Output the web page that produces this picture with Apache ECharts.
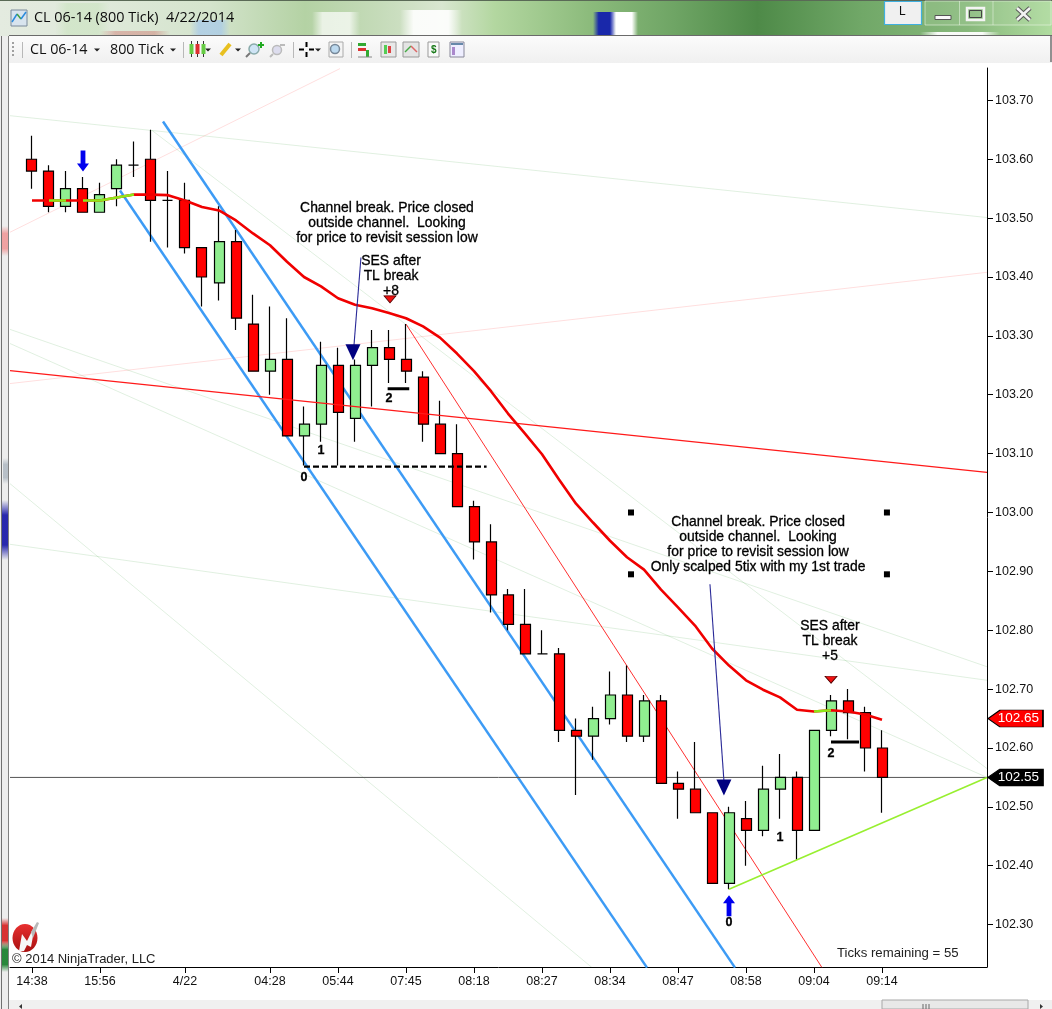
<!DOCTYPE html>
<html><head><meta charset="utf-8"><title>CL 06-14 (800 Tick) 4/22/2014</title>
<style>html,body{margin:0;padding:0;background:#fff}#c{width:1052px;height:1009px}</style>
<script src="https://cdn.jsdelivr.net/npm/echarts@6/dist/echarts.min.js"></script></head><body><div id="c"></div>
<script>
// ---- chart values ----
const priceTicks = [102.3,102.4,102.5,102.6,102.7,102.8,102.9,103.0,103.1,103.2,103.3,103.4,103.5,103.6,103.7];
const timeTickBars = [0,4,9,14,18,22,26,30,34,38,42,46,50];
const timeTickLabels = ['14:38','15:56','4/22','04:28','05:44','07:45','08:18','08:27','08:34','08:47','08:58','09:04','09:14'];
const opens = [103.60,103.58,103.52,103.55,103.51,103.55,103.59,103.60,103.53,103.53,103.45,103.39,103.46,103.32,103.24,103.26,103.13,103.15,103.25,103.16,103.25,103.28,103.26,103.23,103.15,103.10,103.01,102.95,102.86,102.81,102.76,102.76,102.63,102.62,102.65,102.69,102.62,102.68,102.54,102.53,102.49,102.37,102.48,102.46,102.53,102.55,102.46,102.63,102.68,102.66,102.60];
const closes = [103.58,103.52,103.55,103.51,103.54,103.59,103.59,103.53,103.53,103.45,103.40,103.46,103.33,103.24,103.26,103.13,103.15,103.25,103.17,103.25,103.28,103.26,103.24,103.15,103.10,103.01,102.95,102.86,102.81,102.76,102.76,102.63,102.62,102.65,102.69,102.62,102.68,102.54,102.53,102.49,102.37,102.49,102.46,102.53,102.55,102.46,102.63,102.68,102.66,102.60,102.55];
const lows = [103.55,103.51,103.51,103.51,103.51,103.52,103.57,103.46,103.45,103.44,103.35,103.36,103.31,103.24,103.20,103.13,103.08,103.12,103.08,103.12,103.18,103.22,103.22,103.12,103.10,103.01,102.92,102.83,102.80,102.76,102.76,102.61,102.52,102.58,102.64,102.61,102.61,102.54,102.48,102.49,102.37,102.36,102.40,102.45,102.48,102.41,102.46,102.62,102.615,102.56,102.49];
const highs = [103.64,103.59,103.58,103.57,103.56,103.60,103.63,103.65,103.58,103.56,103.45,103.52,103.48,103.37,103.35,103.33,103.18,103.29,103.28,103.26,103.31,103.31,103.32,103.24,103.19,103.15,103.02,102.98,102.87,102.87,102.80,102.77,102.65,102.67,102.73,102.74,102.69,102.69,102.56,102.61,102.49,102.50,102.51,102.57,102.59,102.56,102.63,102.69,102.70,102.67,102.63];
const maValues = [103.530,103.530,103.530,103.530,103.530,103.535,103.540,103.540,103.539,103.530,103.519,103.513,103.496,103.474,103.454,103.426,103.400,103.384,103.364,103.353,103.347,103.339,103.330,103.316,103.297,103.270,103.240,103.206,103.168,103.134,103.099,103.056,103.015,102.983,102.952,102.924,102.903,102.869,102.839,102.808,102.769,102.740,102.715,102.699,102.686,102.665,102.662,102.664,102.662,102.657,102.648];
const maUpSpans = [[1,2],[3,6],[46,47]];
const channelLines = [[7.706,103.664,41.353,102.227],[5.176,103.547,36.176,102.227]];
const redThinLine = [22,103.32,46.47,102.227];
const redLongLine = [-1.294,103.241,56.176,103.068];
const limeLine = [41,102.36,56.176,102.55];
const faintRedLines = [[-1.294,103.476,18.118,103.754],[-1.294,103.219,56.176,103.408]];
const faintGreenLines = [[-1.294,103.674,56.176,103.501],[7.059,103.649,56.176,102.565],[-1.294,103.311,56.176,102.738],[-1.294,103.287,56.176,102.550],[-1.294,103.049,32.941,102.227],[-1.294,102.946,56.176,102.715]];
const lastPrice = 102.55, maLast = 102.65;
const navyLines = [[19.35,103.433,18.94,103.284],[39.88,102.878,40.7,102.545]];
const navyArrows = [[18.88,103.272],[40.7,102.533]];
const downArrow = [3,103.597], upArrow = [41,102.332];
const stopMarks = [[21.06,103.362],[47,102.716]];
const squares = [[35.235,103.0],[50.29,103.0],[35.235,102.895],[50.29,102.895]];
const solidLevels = [[20.92,22.19,103.21],[47,48.65,102.61]];
const dashedLevel = [16,26.74,103.078];
const notes = [
 [20.88,103.491,'Channel break. Price closed\noutside channel.  Looking\nfor price to revisit session low'],
 [21.12,103.401,'SES after\nTL break\n+8'],
 [42.71,102.946,'Channel break. Price closed\noutside channel.  Looking\nfor price to revisit session low\nOnly scalped 5tix with my 1st trade'],
 [46.94,102.781,'SES after\nTL break\n+5']];
const legNumbers = [[16,103.060,'0'],[17,103.105,'1'],[21,103.194,'2'],[41,102.303,'0'],[44,102.448,'1'],[47,102.591,'2']];
const tagBar = 57.85;

// ---- styling / build ----
const FONT='"Liberation Sans",Arial,sans-serif', UI='"Open Sans","Noto Sans",sans-serif';
const xMin=-1.294,xMax=56.176,yMin=102.228,yMax=103.755;
function seg(name,l,color,width,z,extra){return Object.assign({type:'line',name,data:[[l[0],l[1]],[l[2],l[3]]],showSymbol:false,symbol:'none',silent:true,clip:true,z:z,animation:false,lineStyle:{color,width}},extra||{});}
function sc(data,symbol,size,color,rotate,border){return {type:'scatter',data,symbol,symbolSize:size,symbolRotate:rotate||0,silent:true,clip:false,z:6,itemStyle:{color,opacity:1,borderColor:border||color,borderWidth:border?0.8:0}};}
function textSeries(rows,size,weight){return {type:'scatter',data:rows.map(n=>({name:n[2],value:[n[0],n[1]]})),symbolSize:1,silent:true,clip:false,z:7,itemStyle:{color:'rgba(0,0,0,0)',opacity:1},
  label:{show:true,position:'inside',formatter:'{b}',color:'#000',fontFamily:FONT,fontSize:size,fontWeight:weight,lineHeight:15,align:'center',verticalAlign:'middle',textBorderWidth:0.3,textBorderColor:'#000'}};}
const series=[];
faintRedLines.forEach(l=>series.push(seg('faintR',l,'rgba(255,0,0,0.13)',1,1)));
faintGreenLines.forEach(l=>series.push(seg('faintG',l,'rgba(0,128,0,0.12)',1,1)));
channelLines.forEach(l=>series.push(seg('channel',l,'#3d9bf5',2.5,1)));
series.push(seg('thin',redThinLine,'#ff3030',1,1));
series.push(seg('long',redLongLine,'#ff1a1a',1.3,3));
series.push(seg('lime',limeLine,'#98ef30',1.6,3));
series.push({type:'line',name:'last',data:[[xMin,lastPrice],[xMax,lastPrice]],symbol:'none',silent:true,z:1,lineStyle:{color:'#555',width:1}});
series.push({type:'candlestick',name:'CL',barWidth:10.5,z:2,silent:true,
  data:opens.map((o,i)=>[i,o,closes[i],lows[i],highs[i]]),
  itemStyle:{color:'#90ee90',color0:'#ff0000',borderColor:'#000',borderColor0:'#000',borderColorDoji:'#000',borderWidth:1.2}});
series.push({type:'line',name:'MA',data:maValues.map((v,i)=>[i,v]),symbol:'none',silent:true,z:4,lineStyle:{color:'#f00000',width:2.6}});
maUpSpans.forEach(s=>{const d=[];for(let i=s[0];i<=s[1];i++)d.push([i,maValues[i]]);
  series.push({type:'line',name:'MAup',data:d,symbol:'none',silent:true,z:5,lineStyle:{color:'#8ee818',width:2.6}});});
navyLines.forEach(l=>series.push(seg('navy',l,'#2a2a98',1.1,5)));
series.push(sc(navyArrows,'triangle',[15,16],'#000080',180));
const ARROW='path://M30 0 L70 0 L70 62 L100 62 L50 100 L0 62 L30 62 Z';
series.push(sc([downArrow],ARROW,[12,21],'#0000ee',0));
series.push(sc([upArrow],ARROW,[12,21],'#0000ee',180));
series.push(sc(stopMarks,'triangle',[12,7],'#f01010',180,'#500000'));
series.push(sc(squares,'rect',6,'#000'));
solidLevels.forEach(l=>series.push(seg('lvl',[l[0],l[2],l[1],l[2]],'#000',3,5)));
series.push(seg('dash',[dashedLevel[0],dashedLevel[2],dashedLevel[1],dashedLevel[2]],'#000',2.2,5,{lineStyle:{color:'#000',width:2.2,type:[6,3]}}));
series.push(textSeries(notes,13.9,'normal'));
series.push(textSeries(legNumbers,12.5,'bold'));
const TAG='path://M0 50 L22 0 L100 0 L100 100 L22 100 Z';
[[maLast,'#ff0000'],[lastPrice,'#000000']].forEach(t=>series.push({type:'scatter',data:[{name:t[0].toFixed(2),value:[tagBar,t[0]]}],symbol:TAG,symbolSize:[55,17],silent:true,clip:false,z:8,
  itemStyle:{color:t[1],borderColor:'#000',borderWidth:1,opacity:1},label:{show:true,position:'inside',formatter:'{b}',color:'#fff',fontFamily:FONT,fontSize:13.5,offset:[3,0]}}));

const g=[];
const R=(x,y,w,h,fill,extra)=>g.push(Object.assign({type:'rect',silent:true,z:-10,shape:{x,y,width:w,height:h},style:Object.assign({fill},extra&&extra.style||{})},extra&&extra.el||{}));
const T=(x,y,s,size,fam,fill,z)=>g.push({type:'text',silent:true,z:z||-3,x,y,style:{text:s,fontSize:size,fontFamily:fam,fill,verticalAlign:'middle'}});
const L=(x1,y1,x2,y2,c,w)=>g.push({type:'line',silent:true,z:-4,shape:{x1,y1,x2,y2},style:{stroke:c,lineWidth:w||1}});
const P=(pts,fill,z)=>g.push({type:'polygon',silent:true,z:z||-4,shape:{points:pts},style:{fill}});
// title bar
R(0,0,1052,36,{type:'linear',x:0,y:0,x2:1,y2:0,colorStops:[{offset:0,color:'#e4ebe0'},{offset:.1,color:'#dfe9da'},{offset:.2,color:'#d4e4cc'},{offset:.29,color:'#b4d2a4'},{offset:.36,color:'#c5dbb9'},{offset:.42,color:'#d8e6d0'},{offset:.47,color:'#b3d7a0'},{offset:.56,color:'#8cbb7c'},{offset:.64,color:'#6fa565'},{offset:.72,color:'#4e8a48'},{offset:.82,color:'#71a868'},{offset:.92,color:'#87b87b'},{offset:1,color:'#b0dca0'}]});
function hazeH(x,y,w,h,c){const clear=c.replace(/[\d.]+\)$/,'0)');R(x,y,w,h,{type:'linear',x:0,y:0,x2:1,y2:0,colorStops:[{offset:0,color:clear},{offset:.22,color:c},{offset:.78,color:c},{offset:1,color:clear}]},{el:{z:-9}});}
function hazeV(x,y,w,h,c){const clear=c.replace(/[\d.]+\)$/,'0)');R(x,y,w,h,{type:'linear',x:0,y:0,x2:0,y2:1,colorStops:[{offset:0,color:clear},{offset:.25,color:c},{offset:.75,color:c},{offset:1,color:clear}]},{el:{z:-6}});}
hazeH(55,3,55,33,'rgba(205,228,195,.7)');hazeH(190,20,40,16,'rgba(165,200,235,.7)');hazeH(312,12,48,24,'rgba(255,255,255,.7)');hazeH(400,10,62,26,'rgba(255,255,255,.9)');hazeH(100,31,70,5,'rgba(200,60,60,.3)');
hazeH(593,12,26,24,'rgba(25,40,170,1)');hazeH(610,12,28,24,'rgba(255,255,255,1)');hazeH(920,32,80,4,'rgba(255,255,255,.95)');
R(0,0,1052,1,'#5a6a56',{el:{z:-8}});
// window edge and chart surface
R(0,36,1052,973,'#ededed',{el:{z:-7}});R(1,36,1,973,'#707070',{el:{z:-6}});
hazeV(2,500,6,60,'rgba(30,30,170,.95)');hazeV(2,918,6,30,'rgba(215,40,40,.95)');hazeV(2,942,6,30,'rgba(30,130,50,.95)');hazeV(2,226,6,30,'rgba(240,130,130,.7)');hazeV(3,458,5,26,'rgba(170,180,190,.8)');
R(9,36,1043,973,'#ffffff',{el:{z:-5}});R(8,36,1,973,'#808080',{el:{z:-5}});
// toolbar
R(9,36,1043,27,{type:'linear',x:0,y:0,x2:0,y2:1,colorStops:[{offset:0,color:'#fbfbfb'},{offset:1,color:'#f0f0f0'}]},{el:{z:-5}});
R(9,35,1043,1,'#6a6a6a',{el:{z:-5}});R(1050,36,2,26,'#909090',{el:{z:-5}});
[[22],[183],[293],[351]].forEach(a=>L(a[0]+.5,42,a[0]+.5,58,'#b8b8b8'));
[42,46,50,54].forEach(y=>R(12,y,2,2,'#a0a0a0',{el:{z:-4}}));
T(30,50,'CL 06-14',14.3,UI,'#111');T(110,50,'800 Tick',14.3,UI,'#111');
const caret=(x,y)=>P([[x-3,y-1.5],[x+3,y-1.5],[x,y+1.5]],'#222');
[97,173,208,238,318].forEach(x=>caret(x,50));
// toolbar icons
[[190,'#66cc44'],[196,'#dd3030'],[202,'#66cc44']].forEach(a=>{L(a[0]+1.5,41,a[0]+1.5,57,'#333');R(a[0]-.5,44,4,10,a[1],{el:{z:-3}});});
g.push({type:'line',silent:true,z:-4,shape:{x1:221,y1:55,x2:230,y2:44},style:{stroke:'#e8c020',lineWidth:4}});
g.push({type:'circle',silent:true,z:-4,shape:{cx:254,cy:49,r:5},style:{fill:'#cfe4f5',stroke:'#8aa',lineWidth:1.5}});L(250,53,246,57,'#777',2);L(258,45,264,45,'#2a2',2);L(261,42,261,48,'#2a2',2);
g.push({type:'circle',silent:true,z:-4,shape:{cx:277,cy:50,r:4.5},style:{fill:'#dde',stroke:'#bbb',lineWidth:1.5}});L(273,54,270,57,'#bbb',2);L(280,45,285,45,'#bbb',2);
L(299,49.5,304,49.5,'#000',2);L(309,49.5,314,49.5,'#000',2);L(306.5,42,306.5,47,'#000',2);L(306.5,52,306.5,57,'#000',2);
R(329,42,14,15,'#f4f4f4',{style:{stroke:'#aaa'},el:{z:-4}});g.push({type:'circle',silent:true,z:-3,shape:{cx:335,cy:49,r:4.5},style:{fill:'#bcd9ef',stroke:'#789',lineWidth:1.5}});
R(358,43,8,3,'#3a3',{el:{z:-4}});R(358,48,8,3,'#d33',{el:{z:-4}});R(366,50,3,7,'#3a3',{el:{z:-4}});L(358,57,372,57,'#888');
R(381,42,15,15,'#e8e8e8',{style:{stroke:'#999'},el:{z:-4}});R(384,45,3,9,'#5c5',{el:{z:-3}});R(388,46,3,7,'#d44',{el:{z:-3}});
R(403,42,16,15,'#e4e4e4',{style:{stroke:'#999'},el:{z:-4}});L(405,52,411,46,'#4a4',1.5);L(411,46,417,52,'#d66',1.5);
R(428,42,11,15,'#fafafa',{style:{stroke:'#999'},el:{z:-4}});g.push({type:'text',silent:true,z:-3,x:431,y:50,style:{text:'$',fontSize:10,fontWeight:'bold',fill:'#1a7a1a',fontFamily:FONT,verticalAlign:'middle'}});
R(450,42,14,15,'#eef',{style:{stroke:'#889'},el:{z:-4}});R(452,47,3,8,'#a8c',{el:{z:-3}});R(451,43,12,2,'#68a',{el:{z:-3}});
// title icon + title text
R(11,10,16,16,'#d8e4ee',{style:{stroke:'#7a8a9a'},el:{z:-4}});L(12,22,17,14,'#2a8adc',1.5);L(17,14,21,19,'#40a040',1.5);L(21,19,26,12,'#2a8adc',1.5);
T(34,18,'CL 06-14 (800 Tick)  4/22/2014',14.4,UI,'#0c0c0c');
// window buttons
R(884.5,1.5,37,23,'#f0f0f0',{style:{stroke:'#40b0e0',lineWidth:1.2},el:{z:-4}});T(899,12,'L',12,FONT,'#111');
R(925,1,126,24,'rgba(200,225,190,0.18)',{style:{stroke:'rgba(240,250,235,.55)',lineWidth:1},el:{z:-4}});
L(959.5,1,959.5,25,'rgba(240,250,235,.5)');L(993,1,993,25,'rgba(240,250,235,.5)');
R(935,15.5,16,4,'#fafafa',{style:{stroke:'#555'},el:{z:-3}});
R(967,8,17,12,'none',{style:{stroke:'#f4f4f4',lineWidth:2.5},el:{z:-3}});R(969.5,10.5,12,7,'none',{style:{stroke:'#444',lineWidth:1},el:{z:-3}});
L(1017,8,1030,20,'#555',4.5);L(1030,8,1017,20,'#555',4.5);L(1017,8,1030,20,'#f2f2f2',2.6);L(1030,8,1017,20,'#f2f2f2',2.6);
// bottom strip
R(9,1000,1043,9,'#f0f0f0',{el:{z:-4}});R(882,1000,146,9,'#e8e8e8',{style:{stroke:'#a8a8a8'},el:{z:-4}});
[923,926,929].forEach(x=>L(x,1004,x,1009,'#666'));P([[1040,1004],[1040,1009],[1043,1006.5]],'#333');P([[22,1004],[22,1009],[19,1006.5]],'#333');
// branding
T(12,959,'© 2014 NinjaTrader, LLC',13,FONT,'#222',-2);
g.push({type:'ellipse',silent:true,z:-1,shape:{cx:25,cy:938,rx:12.5,ry:14},style:{fill:{type:'linear',x:0,y:0,x2:0,y2:1,colorStops:[{offset:0,color:'#e83030'},{offset:1,color:'#a81010'}]}}});
P([[19,951],[22,934],[27,941],[35,925],[31,947],[27,945],[24,951]],'#f6f6f6',-0.5);
P([[31,932],[37,922],[39,923],[33,938]],'#b8b8b8',-0.5);
T(837,953,'Ticks remaining = 55',13.2,FONT,'#222',-2);

const chart=echarts.init(document.getElementById('c'));
chart.setOption({animation:false,backgroundColor:'#ffffff',graphic:{elements:g},tooltip:{show:false},legend:{show:false},
 grid:{left:10,right:65,top:68,bottom:42,containLabel:false},
 xAxis:{type:'value',min:xMin,max:xMax,scale:true,splitLine:{show:false},
  axisLine:{show:true,onZero:false,lineStyle:{color:'#000',width:1}},
  axisTick:{show:true,length:6,customValues:timeTickBars,lineStyle:{color:'#000'}},
  axisLabel:{show:true,customValues:timeTickBars,margin:8,hideOverlap:false,showMinLabel:true,showMaxLabel:true,color:'#111',fontFamily:FONT,fontSize:12.5,formatter:v=>timeTickLabels[timeTickBars.indexOf(v)]||''}},
 yAxis:{type:'value',position:'right',min:yMin,max:yMax,scale:true,splitLine:{show:false},
  axisLine:{show:true,onZero:false,lineStyle:{color:'#000',width:1}},
  axisTick:{show:true,length:6,customValues:priceTicks,lineStyle:{color:'#000'}},
  axisLabel:{show:true,customValues:priceTicks,margin:8,color:'#111',fontFamily:FONT,fontSize:12.5,formatter:v=>v.toFixed(2)}},
 series});
</script></body></html>
